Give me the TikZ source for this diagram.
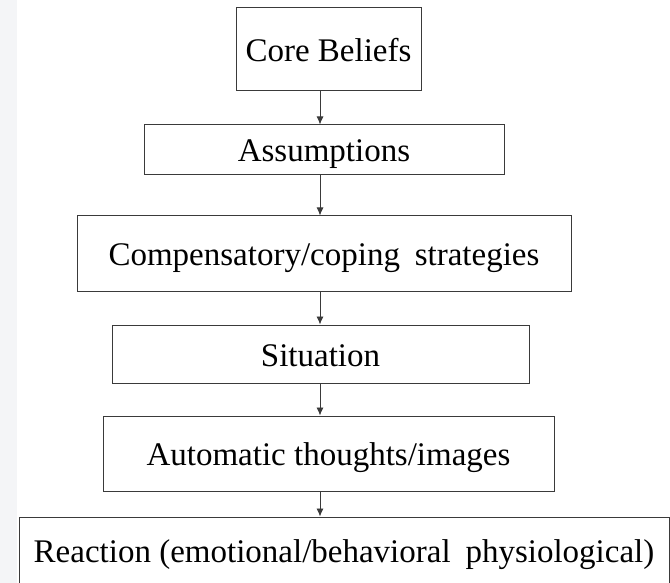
\documentclass[tikz,border=0pt]{standalone}
\usepackage{fontspec}
\setmainfont{Liberation Serif}
\usetikzlibrary{arrows.meta}
\definecolor{linegray}{HTML}{3A3A3A}
\definecolor{stripgray}{HTML}{F4F5F7}
\tikzset{
  stagebox/.style={draw=linegray, line width=1pt, rectangle, inner sep=0pt,
    text height=26pt, text depth=2pt,
    font=\fontsize{33}{38}\selectfont, text=black},
  flowarrow/.style={draw=linegray, line width=0.9pt, -{Latex[length=8pt,width=7pt]}}
}
\begin{document}
\begin{tikzpicture}[x=1pt,y=-1pt]
  \useasboundingbox (0,0) rectangle (670,583);
  \fill[white] (0,0) rectangle (670,583);
  \fill[stripgray] (0,0) rectangle (17,583);
  \node[stagebox, minimum width=185pt, minimum height=83pt] (core) at (328.5,49.5) {Core Beliefs};
  \node[stagebox, minimum width=360pt, minimum height=50pt] (assum) at (324,150) {Assumptions};
  \node[stagebox, minimum width=494pt, minimum height=75pt] (comp) at (324,253.5) {Compensatory/coping\hspace{0.2em} strategies};
  \node[stagebox, minimum width=417pt, minimum height=58pt] (sit) at (320.5,354) {Situation};
  \node[stagebox, minimum width=451pt, minimum height=75pt] (auto) at (328.5,453.5) {Automatic thoughts/images};
  \node[stagebox, minimum width=650pt, minimum height=66pt] (react) at (344,550) {Reaction (emotional/behavioral\hspace{0.2em} physiological)};
  \coordinate (ax) at (320,0);
  \draw[flowarrow] (core.south -| ax) -- (assum.north -| ax);
  \draw[flowarrow] (assum.south -| ax) -- (comp.north -| ax);
  \draw[flowarrow] (comp.south -| ax) -- (sit.north -| ax);
  \draw[flowarrow] (sit.south -| ax) -- (auto.north -| ax);
  \draw[flowarrow] (auto.south -| ax) -- (react.north -| ax);
\end{tikzpicture}
\end{document}
